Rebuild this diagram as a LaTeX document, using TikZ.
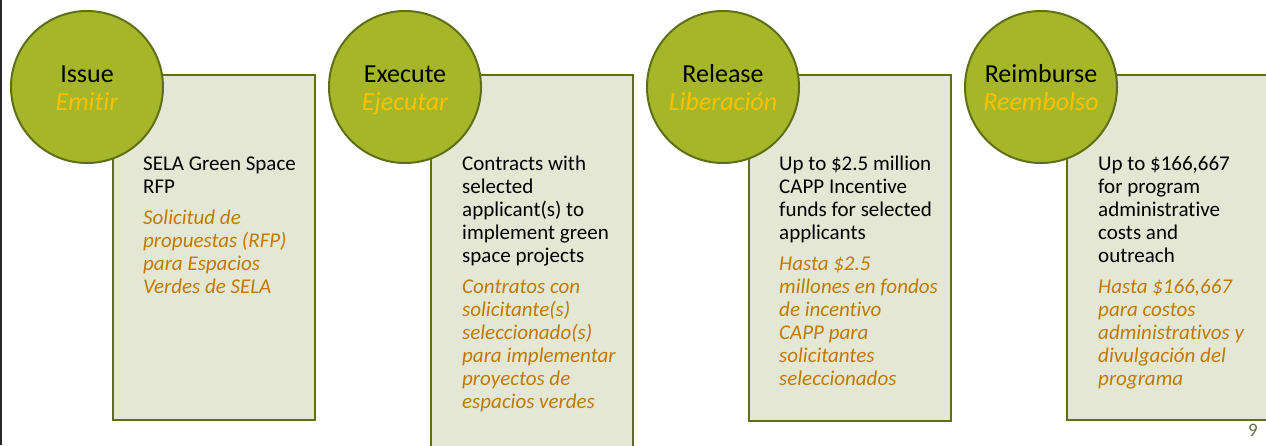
\documentclass[tikz,border=0pt]{standalone}
\usepackage{fontspec}
\setmainfont{Carlito}[Ligatures=NoCommon]
\definecolor{circfill}{RGB}{165,183,41}
\definecolor{olivedark}{RGB}{95,111,24}
\definecolor{boxfill}{RGB}{227,231,212}
\definecolor{spanbox}{RGB}{192,122,0}
\definecolor{spancirc}{RGB}{255,192,0}
\definecolor{pagenum}{RGB}{100,115,70}
\begin{document}
\begin{tikzpicture}[x=1pt,y=-1pt,
  stepcircle/.style={circle, draw=olivedark, line width=2pt, fill=circfill, minimum size=152pt, inner sep=0pt},
  stepbox/.style={rectangle, draw=olivedark, line width=2pt, fill=boxfill, minimum width=202pt, anchor=north west, inner sep=0pt},
  entitle/.style={anchor=base, inner sep=0pt, text=black, font=\fontsize{26}{28}\selectfont},
  estitle/.style={anchor=base, inner sep=0pt, text=spancirc, font=\fontsize{26}{28}\selectfont\itshape},
  bodytext/.style={anchor=north west, inner sep=0pt, align=left, font=\fontsize{21}{23}\selectfont}
]
\useasboundingbox (0,0) rectangle (1266,445);
\clip (0,0) rectangle (1266,445);
\fill[white] (0,0) rectangle (1266,445);
\draw[line width=1.6pt, black!85] (0.8,0) -- (0.8,445);
% boxes
\node[stepbox, minimum height=345pt] (b1) at (112,74) {};
\node[stepbox, minimum height=400pt] (b2) at (430,74) {};
\node[stepbox, minimum height=346pt] (b3) at (748,74) {};
\node[stepbox, minimum height=345pt, minimum width=260pt] (b4) at (1066,74) {};
% circles
\node[stepcircle] (c1) at (87,87) {};
\node[stepcircle] (c2) at (405,87) {};
\node[stepcircle] (c3) at (723,87) {};
\node[stepcircle] (c4) at (1041,87) {};
% circle texts
\node[entitle] (t1) at (87,82) {Issue};
\node[estitle] (s1) at (87,110) {Emitir};
\node[entitle] (t2) at (405,82) {Execute};
\node[estitle] (s2) at (405,110) {Ejecutar};
\node[entitle] (t3) at (723,82) {Release};
\node[estitle] (s3) at (723,110) {Liberación};
\node[entitle] (t4) at (1041,82) {Reimburse};
\node[estitle] (s4) at (1041,110) {Reembolso};
% body texts
\node[bodytext] (d1) at (143,154) {\strut SELA Green Space\\RFP\\[8pt]
  {\color{spanbox}\itshape Solicitud de}\\{\color{spanbox}\itshape propuestas (RFP)}\\{\color{spanbox}\itshape para Espacios}\\{\color{spanbox}\itshape Verdes de SELA}};
\node[bodytext] (d2) at (462,154) {\strut Contracts with\\selected\\applicant(s) to\\implement green\\space projects\\[8pt]
  {\color{spanbox}\itshape Contratos con}\\{\color{spanbox}\itshape solicitante(s)}\\{\color{spanbox}\itshape seleccionado(s)}\\{\color{spanbox}\itshape para implementar}\\{\color{spanbox}\itshape proyectos de}\\{\color{spanbox}\itshape espacios verdes}};
\node[bodytext] (d3) at (779,154) {\strut Up to \$2.5 million\\CAPP Incentive\\funds for selected\\applicants\\[8pt]
  {\color{spanbox}\itshape Hasta \$2.5}\\{\color{spanbox}\itshape millones en fondos}\\{\color{spanbox}\itshape de incentivo}\\{\color{spanbox}\itshape CAPP para}\\{\color{spanbox}\itshape solicitantes}\\{\color{spanbox}\itshape seleccionados}};
\node[bodytext] (d4) at (1098,154) {\strut Up to \$166,667\\for program\\administrative\\costs and\\outreach\\[8pt]
  {\color{spanbox}\itshape Hasta \$166,667}\\{\color{spanbox}\itshape para costos}\\{\color{spanbox}\itshape administrativos y}\\{\color{spanbox}\itshape divulgación del}\\{\color{spanbox}\itshape programa}};
\node[anchor=base, inner sep=0pt, text=pagenum, font=\fontsize{19}{22}\selectfont] (pg) at (1253,436) {9};
\end{tikzpicture}
\end{document}
